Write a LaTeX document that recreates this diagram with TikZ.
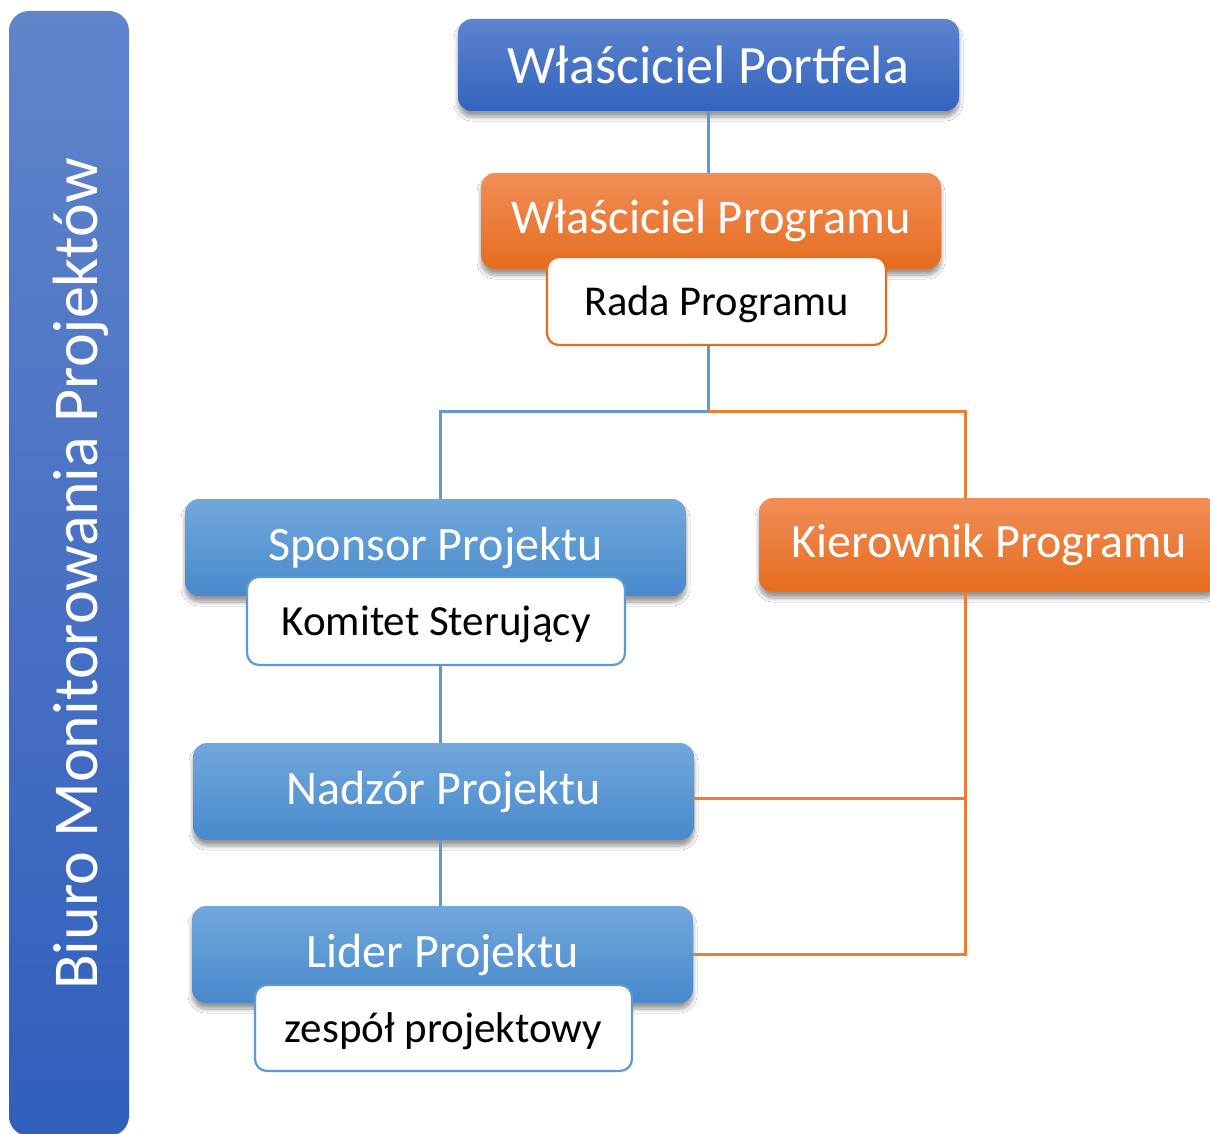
\documentclass[tikz,border=0pt]{standalone}
\usepackage{fontspec}
\setmainfont{Carlito}
\usetikzlibrary{shadows.blur}

\definecolor{portfeltop}{RGB}{93,132,206}
\definecolor{portfelbot}{RGB}{50,99,189}
\definecolor{progtop}{RGB}{241,142,87}
\definecolor{progbot}{RGB}{230,108,30}
\definecolor{projtop}{RGB}{113,168,220}
\definecolor{projbot}{RGB}{72,137,203}
\definecolor{bartop}{RGB}{97,132,203}
\definecolor{barbot}{RGB}{48,95,188}
\definecolor{lineblue}{RGB}{91,155,213}
\definecolor{lineorange}{RGB}{237,125,49}

\tikzset{
  card/.style={rounded corners=14pt, inner sep=0pt, text=white,
    blur shadow={shadow xshift=0pt, shadow yshift=-6pt, shadow blur steps=8, shadow blur radius=4pt, shadow opacity=40}},
  portfelbox/.style={card, top color=portfeltop, bottom color=portfelbot},
  progbox/.style={card, top color=progtop, bottom color=progbot},
  projbox/.style={card, top color=projtop, bottom color=projbot},
  subbox/.style={rounded corners=12pt, inner sep=0pt, fill=white, text=black, line width=2.2pt,
    text height=28pt, text depth=0pt},
  bline/.style={draw=lineblue, line width=3pt},
  oline/.style={draw=lineorange, line width=3pt},
  bigtext/.style={font=\fontsize{48}{56}\selectfont},
  subtext/.style={font=\fontsize{43}{50}\selectfont}
}

\begin{document}
\begin{tikzpicture}[x=1pt,y=-1pt]
\path[use as bounding box] (0,0) rectangle (1210,1134);
\path[fill=white] (0,0) rectangle (1210,1134);

% biuro bar
\path[rounded corners=20pt, top color=bartop, bottom color=barbot] (9,11) rectangle (129,1136);
\node[rotate=90, anchor=base, inner sep=0pt, text=white, font=\fontsize{64}{72}\selectfont] (biuro) at (97,574) {Biuro Monitorowania Projektów};

% program level
\node[portfelbox, minimum width=501pt, minimum height=92pt, font=\fontsize{54}{62}\selectfont] (portfel) at (708.5,65) {Właściciel Portfela};
\node[progbox, minimum width=460pt, minimum height=96pt, font=\fontsize{48.5}{56}\selectfont] (program) at (711,221) {Właściciel Programu};
\node[subbox, subtext, draw=progbot, minimum width=339pt, minimum height=88pt, font=\fontsize{42.5}{50}\selectfont] (rada) at (716.5,301) {Rada Programu};
\node[progbox, bigtext, minimum width=460pt, minimum height=94pt] (kier) at (989,545) {Kierownik Programu};

% project level
\node[projbox, bigtext, minimum width=501pt, minimum height=97pt] (sponsor) at (435.5,547.5) {Sponsor Projektu};
\node[subbox, subtext, draw=lineblue, minimum width=378pt, minimum height=88pt] (komitet) at (436,621) {Komitet Sterujący};
\node[projbox, bigtext, minimum width=501pt, minimum height=97pt] (nadzor) at (443.5,791.5) {Nadzór Projektu};
\node[projbox, bigtext, minimum width=501pt, minimum height=97pt] (lider) at (442.5,954.5) {Lider Projektu};
\node[subbox, subtext, draw=lineblue, minimum width=377pt, minimum height=86pt] (zespol) at (443.5,1028) {zespół projektowy};

% connectors
\coordinate (split) at (708,411);
\coordinate (bspine) at (440,411);
\coordinate (ospine) at (965,411);
\coordinate (ntap) at (nadzor.east |- 0,798);
\draw[bline] (split |- portfel.south) -- (split |- program.north);
\draw[bline] (split |- rada.south) -- (split) -- (bspine) -- (bspine |- sponsor.north);
\draw[bline] (bspine |- komitet.south) -- (bspine |- nadzor.north);
\draw[bline] (bspine |- nadzor.south) -- (bspine |- lider.north);
\draw[oline] (split) -- (ospine) -- (ospine |- kier.north);
\draw[oline] (ospine |- kier.south) -- (ospine |- lider.east) -- (lider.east);
\draw[oline] (ntap) -- (ntap -| ospine);
\end{tikzpicture}
\end{document}
